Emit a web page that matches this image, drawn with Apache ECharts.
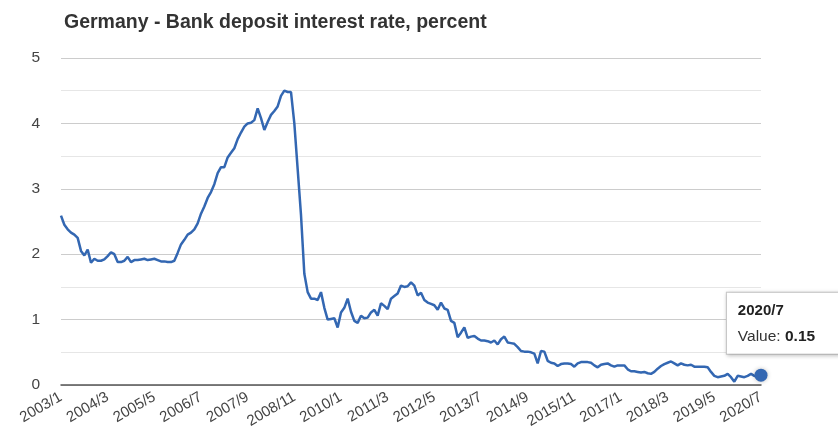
<!DOCTYPE html>
<html>
<head>
<meta charset="utf-8">
<title>Germany - Bank deposit interest rate</title>
<script src="https://cdn.jsdelivr.net/npm/echarts@6/dist/echarts.min.js"></script>
<style>
  html, body { margin: 0; padding: 0; background: #fff; }
  #chart { width: 838px; height: 440px; }
</style>
</head>
<body>
<div id="chart"></div>
<script>
// monthly series, 2003/1 .. 2020/7
const startYear = 2003;
const monthCount = 211;
const chartTitle = 'Germany - Bank deposit interest rate, percent';

const rates = [
  2.59, 2.45, 2.38, 2.33, 2.30, 2.25, 2.05, 1.98, 2.07, 1.87, 1.93, 1.90, // 2003
  1.90, 1.92, 1.97, 2.03, 2.00, 1.88, 1.88, 1.90, 1.96, 1.88, 1.91, 1.91, // 2004
  1.92, 1.93, 1.91, 1.92, 1.93, 1.91, 1.89, 1.89, 1.88, 1.88, 1.90, 2.02, // 2005
  2.15, 2.22, 2.30, 2.33, 2.38, 2.47, 2.62, 2.73, 2.86, 2.95, 3.07, 3.24, // 2006
  3.33, 3.33, 3.48, 3.55, 3.62, 3.76, 3.86, 3.95, 4.00, 4.01, 4.05, 4.23, // 2007
  4.08, 3.90, 4.02, 4.13, 4.19, 4.26, 4.42, 4.50, 4.48, 4.48, 4.00, 3.30, // 2008
  2.60, 1.70, 1.42, 1.32, 1.32, 1.30, 1.42, 1.18, 1.00, 1.01, 1.02, 0.88, // 2009
  1.11, 1.18, 1.32, 1.12, 0.98, 0.95, 1.06, 1.02, 1.03, 1.11, 1.15, 1.06, // 2010
  1.25, 1.21, 1.16, 1.32, 1.36, 1.40, 1.52, 1.50, 1.51, 1.57, 1.52, 1.37, // 2011
  1.41, 1.30, 1.26, 1.24, 1.22, 1.15, 1.26, 1.17, 1.15, 0.98, 0.95, 0.73, // 2012
  0.80, 0.88, 0.72, 0.74, 0.75, 0.71, 0.68, 0.68, 0.67, 0.65, 0.68, 0.62, // 2013
  0.70, 0.74, 0.65, 0.64, 0.63, 0.58, 0.52, 0.51, 0.51, 0.50, 0.48, 0.33, // 2014
  0.52, 0.51, 0.37, 0.34, 0.33, 0.29, 0.32, 0.33, 0.33, 0.32, 0.28, 0.33, // 2015
  0.35, 0.35, 0.35, 0.34, 0.30, 0.27, 0.31, 0.32, 0.33, 0.30, 0.28, 0.30, // 2016
  0.30, 0.30, 0.24, 0.21, 0.21, 0.20, 0.19, 0.20, 0.18, 0.17, 0.20, 0.25, // 2017
  0.29, 0.32, 0.34, 0.36, 0.33, 0.30, 0.33, 0.31, 0.30, 0.31, 0.28, 0.28, // 2018
  0.28, 0.28, 0.27, 0.20, 0.14, 0.12, 0.13, 0.14, 0.17, 0.12, 0.05, 0.14, // 2019
  0.13, 0.12, 0.14, 0.17, 0.14, 0.12, 0.15                                // 2020
];

// category labels "YYYY/M"
const months = [];
for (let i = 0; i < monthCount; i++) {
  months.push((startYear + Math.floor(i / 12)) + '/' + (i % 12 + 1));
}

const lineColor = '#3367b2';
const lastIdx = rates.length - 1;

const seriesData = rates.map((v, i) => {
  if (i !== lastIdx) return v;
  return {
    value: v,
    symbol: 'circle',
    symbolSize: 13,
    itemStyle: { color: lineColor, shadowBlur: 4, shadowColor: 'rgba(0,0,0,0.25)' },
    label: {
      show: true,
      position: 'top',
      distance: 5,
      offset: [22, -10],
      backgroundColor: '#fff',
      borderColor: '#c8c8c8',
      borderWidth: 1,
      shadowBlur: 4,
      shadowColor: 'rgba(0,0,0,0.2)',
      shadowOffsetX: 1,
      shadowOffsetY: 1,
      padding: [5, 24, 4, 11],
      formatter: () => '{t|' + months[lastIdx] + '}\n{v|Value: }{b|' + v.toFixed(2) + '}',
      rich: {
        t: { align: 'left', fontFamily: 'Liberation Sans', fontWeight: 'bold', fontSize: 15, color: '#222', lineHeight: 26 },
        v: { align: 'left', fontFamily: 'Liberation Sans', fontSize: 15.5, color: '#333', lineHeight: 26 },
        b: { align: 'left', fontFamily: 'Liberation Sans', fontWeight: 'bold', fontSize: 15.5, color: '#222', lineHeight: 26 }
      }
    }
  };
});

const chart = echarts.init(document.getElementById('chart'), null, { renderer: 'canvas' });

chart.setOption({
  animation: false,
  backgroundColor: '#fff',
  title: {
    text: chartTitle,
    left: 59,
    top: 8,
    textStyle: { fontFamily: 'Liberation Sans', fontWeight: 'bold', fontSize: 19.5, color: '#333' }
  },
  grid: { left: 61, right: 77, top: 58, bottom: 55 },
  xAxis: {
    type: 'category',
    data: months,
    boundaryGap: false,
    axisLine: { lineStyle: { color: '#555', width: 1.5 } },
    axisTick: { show: false },
    axisLabel: {
      interval: 13,
      rotate: 30,
      margin: 11,
      fontFamily: 'Liberation Sans',
      fontSize: 15,
      color: '#444'
    },
    splitLine: { show: false }
  },
  yAxis: {
    type: 'value',
    min: 0,
    max: 5,
    interval: 0.5,
    axisLine: { show: false },
    axisTick: { show: false },
    axisLabel: {
      margin: 21,
      fontFamily: 'Liberation Sans',
      fontSize: 15.5,
      color: '#444',
      formatter: v => (v % 1 === 0 ? String(v) : '')
    },
    splitLine: { lineStyle: { color: ['#cccccc', '#e6e6e6'], width: 1.2 } }
  },
  series: [{
    type: 'line',
    data: seriesData,
    symbol: 'none',
    lineStyle: { color: lineColor, width: 2.5 },
    itemStyle: { color: lineColor },
    z: 3
  }]
});
</script>
</body>
</html>
